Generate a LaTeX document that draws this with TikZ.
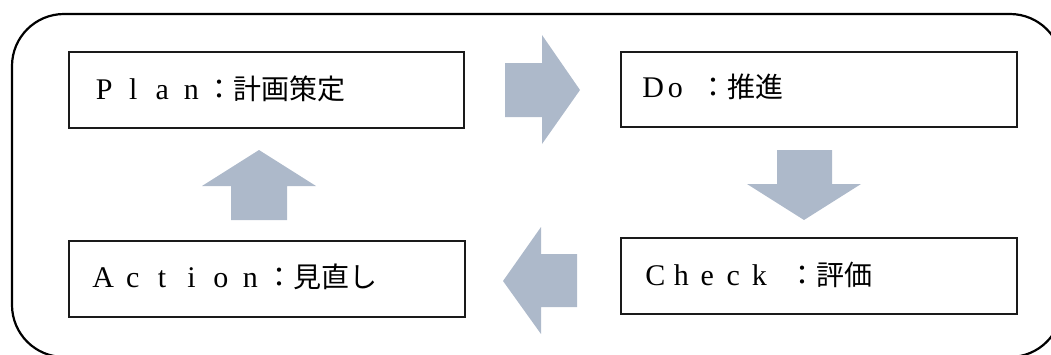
\documentclass[tikz,border=0pt]{standalone}
\usepackage{fontspec}
\newfontfamily\cjkf{Noto Sans CJK JP}
\newfontfamily\latf{Liberation Serif}
\newcommand\fwcell[2]{\makebox[#1][c]{\fontsize{30pt}{32pt}\latf #2}}
\definecolor{arrowfill}{HTML}{ADB9CA}
\definecolor{boxline}{HTML}{1A1A1A}
\begin{document}
\begin{tikzpicture}[x=1pt,y=-1pt,
  stagebox/.style={draw=boxline,line width=1.8pt,minimum width=396pt,minimum height=76pt,inner sep=0pt},
  stagetext/.style={anchor=base west,inner sep=0pt,font=\fontsize{28pt}{30pt}\selectfont},
  blockarrow/.style={fill=arrowfill,draw=none}]
\useasboundingbox (0,0) rectangle (1051,354);
\clip (0,0) rectangle (1051,354);
% outer frame
\draw[line width=2.2pt,rounded corners=52pt] (12,14) rectangle (1062,357);
% boxes
\node[stagebox,minimum width=395pt] (plan) at (266.5,90) {};
\node[stagebox,minimum height=75pt] (do) at (819,89.5) {};
\node[stagebox] (check) at (819,276) {};
\node[stagebox] (action) at (267,279) {};
% labels
\node[stagetext] (plantext) at ([xshift=21.5pt,yshift=-9.5pt]plan.west) {\fwcell{29pt}{P}\fwcell{29pt}{l}\fwcell{29pt}{a}\fwcell{29pt}{n}{\cjkf ：計画策定}};
\node[stagetext] (dotext) at ([xshift=22pt,yshift=-8pt]do.west) {\fwcell{22pt}{D}\fwcell{22pt}{o}\hspace{13pt}{\cjkf ：推進}};
\node[stagetext] (checktext) at ([xshift=22pt,yshift=-9pt]check.west) {\fwcell{26pt}{C}\fwcell{26pt}{h}\fwcell{26pt}{e}\fwcell{26pt}{c}\fwcell{26pt}{k}\hspace{16pt}{\cjkf ：評価}};
\node[stagetext] (actiontext) at ([xshift=20.3pt,yshift=-8pt]action.west) {\fwcell{29.4pt}{A}\fwcell{29.4pt}{c}\fwcell{29.4pt}{t}\fwcell{29.4pt}{i}\fwcell{29.4pt}{o}\fwcell{29.4pt}{n}{\cjkf ：見直し}};
% block arrows
\fill[blockarrow] (505,63) -- (542,63) -- (542,35) -- (580,90) -- (542,144) -- (542,117) -- (505,117) -- cycle;
\fill[blockarrow] (777,150) -- (832,150) -- (832,184) -- (861,184) -- (804,220) -- (747,184) -- (777,184) -- cycle;
\fill[blockarrow] (577,254) -- (541,254) -- (541,227) -- (503,281) -- (541,334) -- (541,307) -- (577,307) -- cycle;
\fill[blockarrow] (231,220) -- (231,186) -- (202,186) -- (259,150) -- (316,186) -- (287,186) -- (287,220) -- cycle;
\end{tikzpicture}
\end{document}
